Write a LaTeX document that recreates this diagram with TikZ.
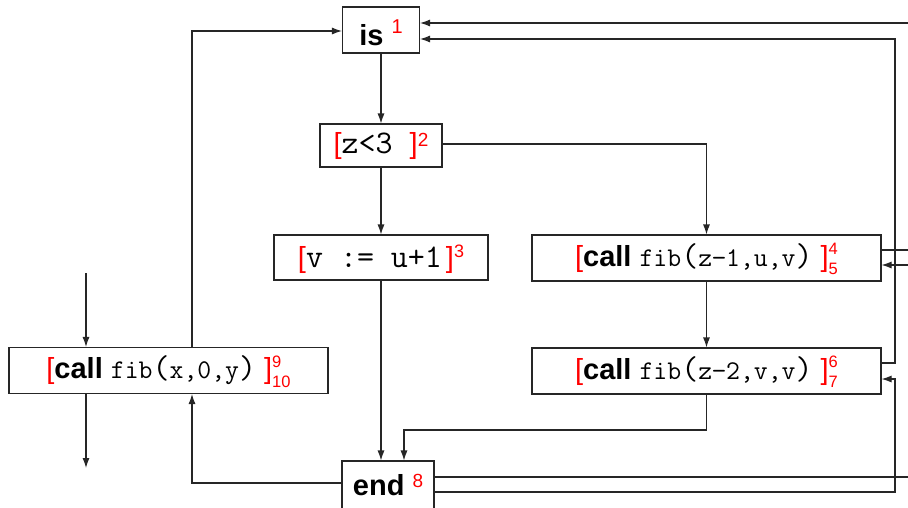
\documentclass[tikz,border=0pt]{standalone}
\usepackage{fontspec}
\setsansfont{Liberation Sans}
\usetikzlibrary{arrows.meta}

% red labels: plain, raised, and stacked super/sub pair
\newcommand\rednum[2][18]{{\color{red}\fontsize{#1}{#1}\selectfont\sffamily #2}}
\newcommand\upnum[3][18]{\raisebox{#3}{\rednum[#1]{#2}}}
\newcommand\updown[2]{\rlap{\raisebox{11.5pt}{\rednum[16.5]{#1}}}\raisebox{-8.5pt}{\rednum[16.5]{#2}}}
\newcommand\Lbrk{{\color{red}[}}
\newcommand\Rbrk{{\color{red}]}}
% typewriter text in two sizes
\newcommand\bigcode[1]{{\fontsize{33}{33}\selectfont\ttfamily #1}}
\newcommand\smallcode[1]{{\fontsize{27}{27}\selectfont\ttfamily #1}}

\tikzset{
  blk/.style={draw=black!85, line width=1.1pt, inner sep=0pt, fill=white,
    minimum height=46pt, text height=22pt, text depth=6pt},
  arr/.style={line width=1.1pt, draw=black!85, -{Latex[length=10pt,width=7pt]}},
  ln/.style={line width=1.1pt, draw=black!85},
}

\begin{document}
\begin{tikzpicture}[x=1pt, y=-1pt, font=\sffamily\fontsize{29}{34}\selectfont]
\useasboundingbox (0,0) rectangle (908,507);
\clip (0,0) rectangle (908,507);

% blocks
\node[blk, minimum width=77pt, text height=32pt, text depth=2pt] (is) at (381,30)
  {\textbf{is} \upnum[20]{1}{12pt}\hspace{12pt}};
\node[blk, minimum width=122pt, minimum height=43pt, text height=21pt] (test) at (381,145.5)
  {\Lbrk\bigcode{z<3 }\Rbrk\upnum[19]{2}{7pt}};
\node[blk, minimum width=214pt, minimum height=45pt, text height=25pt] (assign) at (381,257.5)
  {\Lbrk\bigcode{v := u+1}\hspace{4pt}\Rbrk\upnum{3}{10pt}};
\node[blk, minimum width=349pt] (callA) at (706.5,258)
  {\Lbrk\textbf{call} \smallcode{fib}\bigcode{(}\smallcode{z−1,u,v}\bigcode{)} \Rbrk\updown{4}{5}};
\node[blk, minimum width=349pt] (callB) at (706.5,371)
  {\Lbrk\textbf{call} \smallcode{fib}\bigcode{(}\smallcode{z−2,v,v}\bigcode{)} \Rbrk\updown{6}{7}};
\node[blk, minimum width=319pt] (callM) at (168.5,370.5)
  {\Lbrk\textbf{call} \smallcode{fib}\bigcode{(}\smallcode{x,0,y}\bigcode{)} \Rbrk\updown{9}{10}};
\node[blk, minimum width=92pt, minimum height=52pt] (end) at (388,487)
  {\textbf{end} \upnum[19]{8}{8pt}\hspace{14pt}};

% free ends and bends
\coordinate (inM) at (86,273);
\coordinate (outM) at (86,468);
\coordinate (joinB) at (404,430);
\coordinate (topIn) at (915,23);
\coordinate (retIs) at (895,39);
\coordinate (outA) at (915,250);
\coordinate (inA) at (915,265);
\coordinate (outEnd) at (915,477);
\coordinate (retB) at (895,379);

% body of fib
\draw[arr] (is) -- (test);
\draw[arr] (test) -- (assign);
\draw[arr] ([yshift=1.5pt]test.east) -| (callA.north);
\draw[arr] (assign.south) -- (assign.south |- end.north);
\draw[arr] (callA) -- (callB);
\draw[arr] (callB.south) |- (joinB) -- (joinB |- end.north);

% main call
\draw[arr] (inM) -- (inM |- callM.north);
\draw[arr] (outM |- callM.south) -- (outM);
\draw[arr] ([xshift=23.5pt]callM.north) |- ([yshift=-1pt]is.west);
\draw[arr] ([yshift=4pt]end.west) -| ([xshift=23.5pt]callM.south);

% recursive calls and returns
\draw[arr] (topIn) -- (topIn -| is.east);
\draw[arr] ([yshift=8pt]callB.east) -| (retIs) -- (retIs -| is.east);
\draw[ln] ([yshift=8pt]callA.east) -- (outA);
\draw[arr] (inA) -- (inA -| callA.east);
\draw[ln] ([yshift=10pt]end.east) -- (outEnd);
\draw[arr] ([yshift=-5pt]end.east) -| (retB) -- (retB -| callB.east);
\end{tikzpicture}
\end{document}
